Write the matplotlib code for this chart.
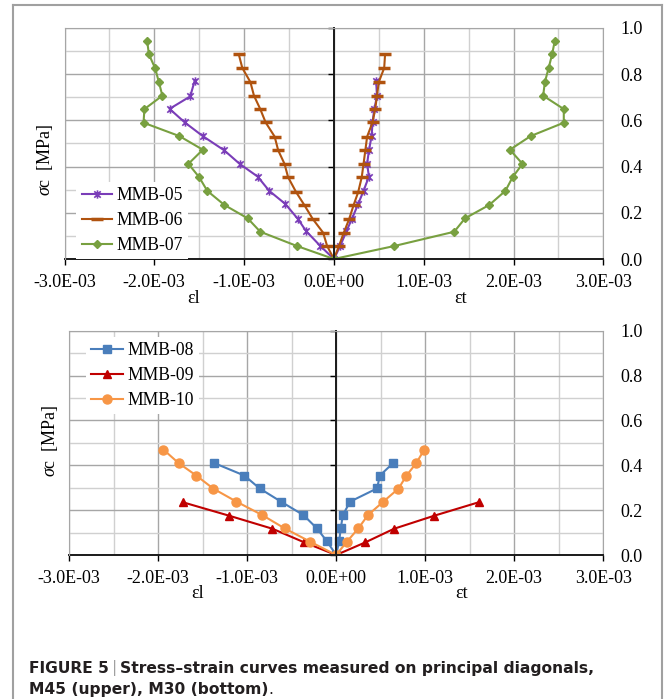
import numpy as np
import matplotlib
matplotlib.use('Agg')
import matplotlib.pyplot as plt
from matplotlib.path import Path
from matplotlib.lines import Line2D
from matplotlib.ticker import MultipleLocator, FuncFormatter

plt.rcParams['font.family'] = ['Liberation Serif', 'DejaVu Serif']
plt.rcParams['mathtext.fontset'] = 'custom'
plt.rcParams['mathtext.it'] = 'Liberation Serif:italic'
plt.rcParams['mathtext.rm'] = 'Liberation Serif'

# strains are given in units of 1E-03, stress in MPa
# M45 (upper)
s05 = [0.056, 0.121, 0.173, 0.238, 0.295, 0.357, 0.412, 0.470, 0.532, 0.591, 0.650, 0.704, 0.772]
el05 = [-0.15, -0.31, -0.40, -0.54, -0.72, -0.85, -1.05, -1.22, -1.46, -1.66, -1.83, -1.60, -1.55]
et05 = [0.07, 0.14, 0.20, 0.27, 0.33, 0.39, 0.37, 0.39, 0.42, 0.43, 0.45, 0.48, 0.47]

s06 = [0.056, 0.114, 0.173, 0.234, 0.289, 0.354, 0.412, 0.470, 0.530, 0.591, 0.649, 0.707, 0.766, 0.827, 0.887]
el06 = [-0.075, -0.12, -0.235, -0.33, -0.42, -0.51, -0.55, -0.62, -0.66, -0.76, -0.82, -0.89, -0.93, -1.02, -1.06]
et06 = [0.056, 0.11, 0.17, 0.22, 0.27, 0.31, 0.33, 0.35, 0.37, 0.43, 0.46, 0.48, 0.50, 0.56, 0.57]

s07 = [0.056, 0.118, 0.176, 0.234, 0.295, 0.354, 0.412, 0.473, 0.532, 0.590, 0.649, 0.707, 0.767, 0.825, 0.886, 0.945]
el07 = [-0.41, -0.82, -0.96, -1.22, -1.41, -1.50, -1.62, -1.46, -1.72, -2.12, -2.11, -1.91, -1.95, -1.99, -2.06, -2.08]
et07 = [0.67, 1.34, 1.46, 1.73, 1.91, 1.99, 2.10, 1.96, 2.19, 2.56, 2.56, 2.33, 2.35, 2.39, 2.43, 2.46]

# M30 (bottom)
s08 = [0.062, 0.119, 0.178, 0.238, 0.297, 0.354, 0.410]
el08 = [-0.105, -0.217, -0.367, -0.62, -0.86, -1.03, -1.37]
et08 = [0.034, 0.052, 0.075, 0.157, 0.46, 0.49, 0.64]

s09 = [0.056, 0.117, 0.175, 0.235]
el09 = [-0.356, -0.715, -1.20, -1.72]
et09 = [0.326, 0.65, 1.10, 1.60]

s10 = [0.059, 0.119, 0.178, 0.238, 0.296, 0.354, 0.410, 0.470]
el10 = [-0.29, -0.58, -0.83, -1.12, -1.38, -1.57, -1.77, -1.94]
et10 = [0.12, 0.25, 0.357, 0.53, 0.70, 0.79, 0.90, 0.99]

W, H = 665, 699
grid_major = '#a6a6a6'
grid_minor = '#d0d0d0'

# Excel "star" marker: x with a vertical bar
star = Path([(-1, -1), (1, 1), (-1, 1), (1, -1), (0, -1.3), (0, 1.3)],
            [Path.MOVETO, Path.LINETO, Path.MOVETO, Path.LINETO, Path.MOVETO, Path.LINETO])


def curve(stress, el, et):
    # left branch from top down to origin, then up the right branch
    x = np.concatenate([np.array(el)[::-1], [0.0], np.array(et)]) * 1e-3
    y = np.concatenate([np.array(stress)[::-1], [0.0], np.array(stress)])
    return x, y


def px_rect(left, top, right, bottom):
    return [left / W, 1 - bottom / H, (right - left) / W, (bottom - top) / H]


def setup(ax, ylab_y):
    ax.set_xlim(-3e-3, 3e-3)
    ax.set_ylim(0, 1)
    ax.xaxis.set_major_locator(MultipleLocator(1e-3))
    ax.xaxis.set_minor_locator(MultipleLocator(0.5e-3))
    ax.yaxis.set_major_locator(MultipleLocator(0.2))
    ax.yaxis.set_minor_locator(MultipleLocator(0.1))
    ax.xaxis.set_major_formatter(FuncFormatter(lambda v, p: f'{round(v * 1e3) * 1e-3:.1E}'))
    ax.grid(which='major', color=grid_major, lw=1.0)
    ax.grid(which='minor', color=grid_minor, lw=1.0)
    ax.set_axisbelow(True)
    ax.tick_params(axis='x', which='major', direction='out', length=4.5, width=1.0,
                   labelsize=13, pad=6)
    ax.tick_params(axis='y', which='major', direction='out', length=4, width=1.0,
                   labelleft=False)
    ax.tick_params(which='minor', length=0)

    ax.spines['left'].set_position(('data', 0))
    ax.spines['left'].set_color('#1a1a1a')
    ax.spines['left'].set_linewidth(1.4)
    ax.spines['bottom'].set_color('#1a1a1a')
    ax.spines['bottom'].set_linewidth(1.4)
    ax.spines['top'].set_color(grid_major)
    ax.spines['right'].set_color(grid_major)

    # right-hand labels and the grey left frame
    ax2 = ax.twinx()
    ax2.set_ylim(0, 1)
    ax2.yaxis.set_major_locator(MultipleLocator(0.2))
    ax2.yaxis.set_major_formatter(FuncFormatter(lambda v, p: f'{v:.1f}'))
    ax2.tick_params(axis='y', length=0, pad=12, labelsize=13)
    for s in ['top', 'right', 'bottom']:
        ax2.spines[s].set_visible(False)
    ax2.spines['left'].set_color(grid_major)

    ax.text(-0.036, ylab_y, '$\\sigma$c  [MPa]', rotation=90, transform=ax.transAxes,
            ha='center', va='center', fontsize=13)
    ax.text(0.24, -0.17, 'εl', transform=ax.transAxes, ha='center', va='center', fontsize=13)
    ax.text(0.735, -0.17, 'εt', transform=ax.transAxes, ha='center', va='center', fontsize=13)


fig = plt.figure(figsize=(W / 100, H / 100), dpi=100)

leg_kw = dict(loc='upper left', frameon=True, fancybox=False, edgecolor='none',
              facecolor='white', framealpha=1, fontsize=12.7, handletextpad=0.25,
              labelspacing=0.45, borderpad=0.3, borderaxespad=0)

# top panel, M45
ax1 = fig.add_axes(px_rect(64.5, 28, 603.3, 259))
setup(ax1, 0.43)
x, y = curve(s05, el05, et05)
ax1.plot(x, y, color='#7a3db8', lw=1.5, marker=star, ms=6, mfc='none', mew=1.2, label='MMB-05')
x, y = curve(s06, el06, et06)
ax1.plot(x, y, color='#b0530f', lw=1.5, marker='_', ms=8, mew=2.5, label='MMB-06')
x, y = curve(s07, el07, et07)
ax1.plot(x, y, color='#78a040', lw=1.5, marker='D', ms=4.5, label='MMB-07')
ax1.legend(bbox_to_anchor=(0.022, 0.335), handlelength=1.7, **leg_kw)

# bottom panel, M30
ax3 = fig.add_axes(px_rect(69, 330.7, 603.3, 555))
setup(ax3, 0.51)
x, y = curve(s08, el08, et08)
ax3.plot(x, y, color='#4a7ebb', lw=1.5, marker='s', ms=6, label='MMB-08')
x, y = curve(s09, el09, et09)
ax3.plot(x, y, color='#c00000', lw=1.5, marker='^', ms=6, label='MMB-09')
x, y = curve(s10, el10, et10)
ax3.plot(x, y, color='#f79646', lw=1.5, marker='o', ms=6.5, label='MMB-10')
ax3.legend(bbox_to_anchor=(0.032, 0.972), handlelength=1.8, **leg_kw)

# outer frame (left, top, right)
frame_kw = dict(color='#a0a0a0', lw=1.5, transform=fig.transFigure)
fig.add_artist(Line2D([12.7 / W, 12.7 / W], [0, 1 - 4.7 / H], **frame_kw))
fig.add_artist(Line2D([12.7 / W, 661.7 / W], [1 - 4.7 / H, 1 - 4.7 / H], **frame_kw))
fig.add_artist(Line2D([661.7 / W, 661.7 / W], [0, 1 - 4.7 / H], **frame_kw))

# caption
cap_font = ['DejaVu Sans']
cap = dict(family=cap_font, size=11.2, color='#231f20')
t1 = fig.text(29 / W, 1 - 673 / H, 'FIGURE 5', fontweight='bold', va='baseline', **cap)
t2 = plt.annotate('|', xy=(1, 0), xycoords=t1, xytext=(2, 0), textcoords='offset points',
                  va='bottom', family=cap_font, size=11.2, color='#a0a0a0')
t3 = plt.annotate('Stress–strain curves measured on principal diagonals,', xy=(1, 0),
                  xycoords=t2, xytext=(2, 0), textcoords='offset points', va='bottom',
                  fontweight='bold', **cap)
t4 = fig.text(29 / W, 1 - 694 / H, 'M45 (upper), M30 (bottom)', fontweight='bold',
              va='baseline', **cap)
plt.annotate('.', xy=(1, 0), xycoords=t4, xytext=(0, 0), textcoords='offset points',
             va='bottom', **cap)

fig.savefig('out.png', dpi=100)
